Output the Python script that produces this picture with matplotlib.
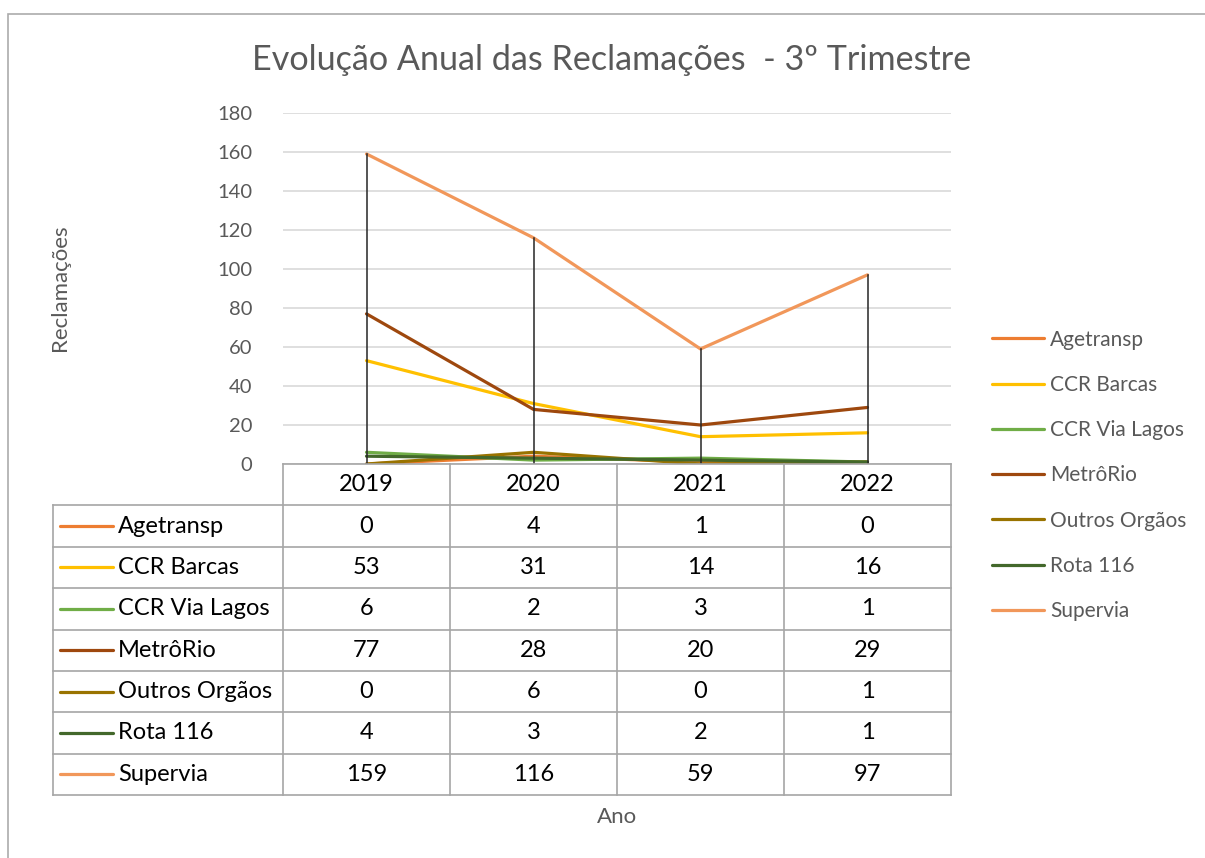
import matplotlib.pyplot as plt
from matplotlib.patches import Rectangle

# Dados
anos = ["2019", "2020", "2021", "2022"]
series = ["Agetransp", "CCR Barcas", "CCR Via Lagos", "MetrôRio",
          "Outros Orgãos", "Rota 116", "Supervia"]
agetransp = [0, 4, 1, 0]
ccr_barcas = [53, 31, 14, 16]
ccr_via_lagos = [6, 2, 3, 1]
metrorio = [77, 28, 20, 29]
outros_orgaos = [0, 6, 0, 1]
rota_116 = [4, 3, 2, 1]
supervia = [159, 116, 59, 97]
valores = [agetransp, ccr_barcas, ccr_via_lagos, metrorio,
           outros_orgaos, rota_116, supervia]
cores = ["#ED7D31", "#FFC000", "#70AD47", "#9E480E",
         "#997300", "#43682B", "#F1975A"]

plt.rcParams['font.family'] = ['Lato', 'DejaVu Sans']

W, H = 1205, 858
fig = plt.figure(figsize=(W / 100, H / 100), dpi=100)

def px(x0, y0, x1, y1):
    # caixa em pixels (topo-esquerda) -> coordenadas da figura
    return [x0 / W, 1 - y1 / H, (x1 - x0) / W, (y1 - y0) / H]

# moldura do grafico
fig.patches.append(Rectangle((8 / W, -0.1), 1.2, 1 - 14 / H + 0.1,
                             transform=fig.transFigure, fill=False,
                             edgecolor="#ABABAB", lw=1.2))

# area do grafico
ax = fig.add_axes(px(283, 113, 951, 464))
x = list(range(len(anos)))
for nome, v, c in zip(series, valores, cores):
    ax.plot(x, v, color=c, lw=2.3, label=nome, solid_capstyle="round", zorder=3)

# linhas de queda ate o maximo
for i in x:
    topo = max(v[i] for v in valores)
    ax.plot([i, i], [0, topo], color="#262626", lw=1.1, zorder=4)

ax.set_xlim(-0.5, len(anos) - 0.5)
ax.set_ylim(0, 180)
ax.set_yticks(range(0, 181, 20))
ax.set_xticks([])
ax.grid(axis="y", color="#D9D9D9", lw=1.2)
ax.set_axisbelow(True)
for s in ax.spines.values():
    s.set_visible(False)
ax.tick_params(axis="y", length=0, labelsize=14.5, labelcolor="#595959", pad=22)

fig.text(60 / W, 1 - 288 / H, "Reclamações", rotation=90, ha="center", va="center",
         fontsize=16, color="#595959")
fig.text(612 / W, 1 - 60 / H, "Evolução Anual das Reclamações  - 3º Trimestre",
         ha="center", va="center", fontsize=24.6, color="#595959")

# tabela de dados
lw_col = (283 - 53) / 167.0
tb = fig.add_axes(px(53, 464, 951, 795))
tb.set_xlim(-0.5 - lw_col, len(anos) - 0.5)
tb.set_ylim(len(series) + 1, 0)
tb.axis("off")
borda = "#A6A6A6"
n = len(series)
fs_tab = 17
# linhas horizontais
tb.plot([-0.5, len(anos) - 0.5], [0, 0], color=borda, lw=1.2, clip_on=False)
for r in range(1, n + 2):
    tb.plot([-0.5 - lw_col, len(anos) - 0.5], [r, r], color=borda, lw=1.2, clip_on=False)
# linhas verticais
tb.plot([-0.5 - lw_col, -0.5 - lw_col], [1, n + 1], color=borda, lw=1.2, clip_on=False)
for j in range(len(anos) + 1):
    tb.plot([j - 0.5, j - 0.5], [0, n + 1], color=borda, lw=1.2, clip_on=False)
for j, a in enumerate(anos):
    tb.text(j, 0.5, a, ha="center", va="center", fontsize=fs_tab, color="black")
for r, (nome, v, c) in enumerate(zip(series, valores, cores)):
    yy = r + 1.5
    x0 = -0.5 - lw_col
    tb.plot([x0 + 7 / 167, x0 + 60 / 167], [yy, yy], color=c, lw=2.3,
            solid_capstyle="round", clip_on=False)
    tb.text(x0 + 65 / 167, yy, nome, ha="left", va="center", fontsize=fs_tab, color="black")
    for j, val in enumerate(v):
        tb.text(j, yy, str(val), ha="center", va="center", fontsize=fs_tab, color="black")

fig.text(617 / W, 1 - 817 / H, "Ano", ha="center", va="center",
         fontsize=16, color="#595959")

# legenda
leg = fig.legend(loc="upper left", bbox_to_anchor=(973 / W, 1 - 311 / H),
                 frameon=False, fontsize=15, handlelength=2.5, handletextpad=0.3,
                 labelspacing=1.21, labelcolor="#595959")

fig.savefig("out.png", dpi=100)
